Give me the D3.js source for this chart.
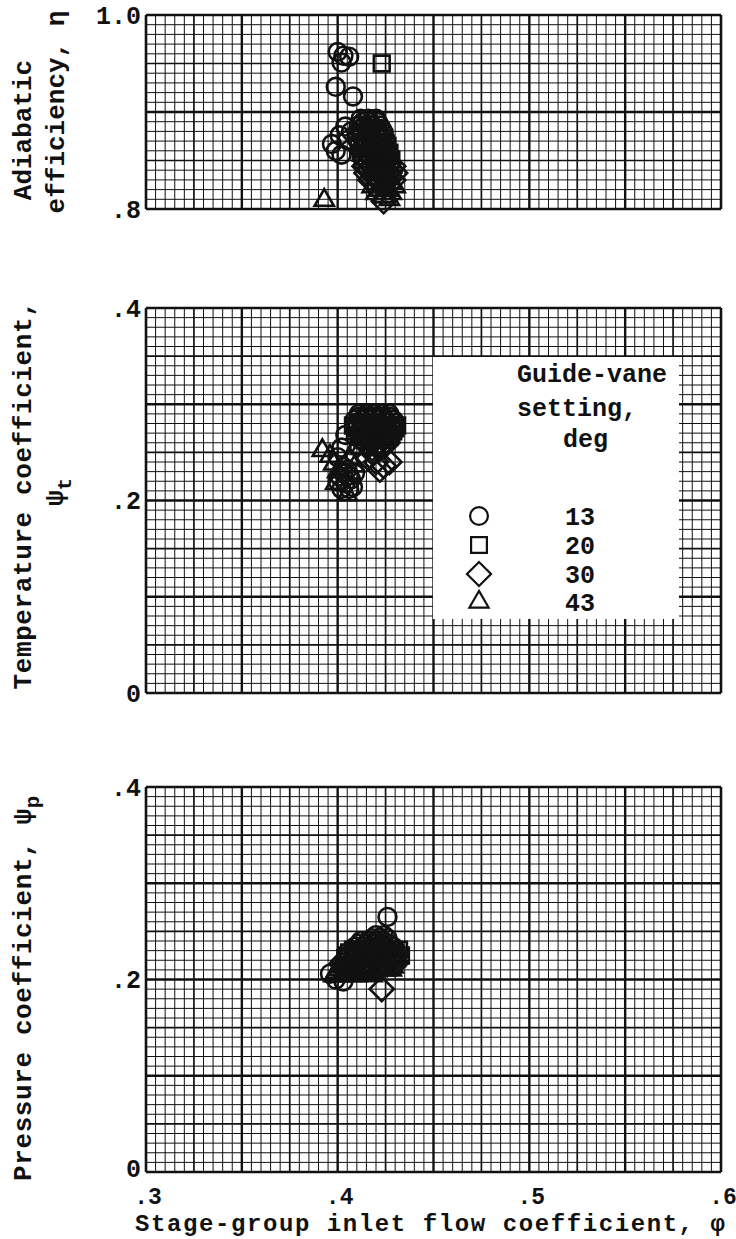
<!DOCTYPE html>
<html>
<head>
<meta charset="utf-8">
<script src="https://cdn.jsdelivr.net/npm/d3@7"></script>
<style>
  html, body { margin: 0; padding: 0; background: #fff; }
  svg text { font-family: "Liberation Mono", "DejaVu Sans Mono", monospace; fill: #111; font-weight: bold; }
</style>
</head>
<body>
<svg id="chart" width="736" height="1239"></svg>
<script>
// Stage-group inlet flow coefficient tick labels
const phiTickValues = [0.3, 0.4, 0.5, 0.6];
const phiTickLabels = [".3", ".4", ".5", ".6"];

// Guide-vane settings, deg
const settings = ["13", "20", "30", "43"];

// Adiabatic efficiency, eta, vs flow coefficient
const etaCircle = [[0.400,0.962],[0.403,0.958],[0.406,0.957],[0.402,0.951],[0.399,0.926],[0.408,0.916],
  [0.404,0.885],[0.401,0.876],[0.397,0.867],[0.399,0.860],[0.402,0.856],[0.405,0.871],[0.407,0.880],
  [0.412,0.893],[0.416,0.893],[0.420,0.893],
  [0.413,0.8895],[0.417,0.8895],[0.421,0.8895],
  [0.411,0.886],[0.414,0.886],[0.418,0.886],[0.422,0.886],
  [0.412,0.8825],[0.416,0.8825],[0.420,0.8825],[0.423,0.8825],
  [0.410,0.879],[0.413,0.879],[0.417,0.879],[0.421,0.879],[0.424,0.879],
  [0.412,0.8755],[0.416,0.8755],[0.420,0.8755],[0.423,0.8755],
  [0.410,0.872],[0.414,0.872],[0.418,0.872],[0.422,0.872],[0.425,0.872]];
const etaSquare = [[0.423,0.950],
  [0.413,0.8685],[0.417,0.8685],[0.421,0.8685],[0.424,0.8685],
  [0.411,0.865],[0.415,0.865],[0.419,0.865],[0.423,0.865],[0.426,0.865],
  [0.414,0.8615],[0.418,0.8615],[0.422,0.8615],[0.425,0.8615],
  [0.412,0.858],[0.416,0.858],[0.420,0.858],[0.424,0.858],[0.427,0.858],
  [0.415,0.8545],[0.419,0.8545],[0.423,0.8545],[0.426,0.8545],
  [0.413,0.851],[0.417,0.851],[0.421,0.851],[0.425,0.851],[0.428,0.851]];
const etaDiamond = [[0.416,0.8475],[0.420,0.8475],[0.424,0.8475],[0.427,0.8475],
  [0.414,0.844],[0.418,0.844],[0.422,0.844],[0.426,0.844],[0.429,0.844],
  [0.417,0.8405],[0.421,0.8405],[0.425,0.8405],[0.428,0.8405],
  [0.415,0.837],[0.419,0.837],[0.423,0.837],[0.427,0.837],[0.430,0.837],
  [0.419,0.8335],[0.423,0.8335],[0.427,0.8335],
  [0.417,0.830],[0.421,0.830],[0.425,0.830],[0.429,0.830],[0.424,0.808]];
const etaTriangle = [[0.393,0.809],
  [0.420,0.8265],[0.424,0.8265],[0.428,0.8265],
  [0.418,0.823],[0.422,0.823],[0.426,0.823],[0.430,0.823],
  [0.422,0.8195],[0.426,0.8195],
  [0.420,0.816],[0.424,0.816],[0.428,0.816],[0.424,0.8125],[0.427,0.810]];

// Temperature coefficient, psi_t
const psitCircle = [[0.404,0.268],[0.402,0.255],[0.400,0.245],[0.403,0.235],[0.401,0.225],[0.404,0.218],[0.402,0.212],
  [0.406,0.226],[0.408,0.214],[0.405,0.232],[0.407,0.222],[0.403,0.228],[0.409,0.228],[0.406,0.212],[0.400,0.220],
  [0.411,0.290],[0.415,0.290],[0.419,0.290],[0.423,0.290],[0.427,0.290],
  [0.411,0.287],[0.415,0.287],[0.419,0.287],[0.423,0.287],[0.427,0.287],
  [0.409,0.284],[0.413,0.284],[0.417,0.284],[0.421,0.284],[0.425,0.284],[0.429,0.284],
  [0.410,0.281],[0.414,0.281],[0.418,0.281],[0.422,0.281],[0.426,0.281],[0.430,0.281]];
const psitSquare = [[0.408,0.278],[0.412,0.278],[0.416,0.278],[0.420,0.278],[0.424,0.278],[0.428,0.278],[0.431,0.278],
  [0.410,0.275],[0.414,0.275],[0.418,0.275],[0.422,0.275],[0.426,0.275],[0.430,0.275],
  [0.409,0.272],[0.413,0.272],[0.417,0.272],[0.421,0.272],[0.425,0.272],[0.429,0.272],
  [0.412,0.269],[0.416,0.269],[0.420,0.269],[0.424,0.269],[0.428,0.269],
  [0.411,0.266],[0.415,0.266],[0.419,0.266],[0.423,0.266],[0.427,0.266],
  [0.413,0.263],[0.417,0.263],[0.421,0.263],[0.425,0.263]];
const psitDiamond = [[0.414,0.260],[0.418,0.260],[0.422,0.260],[0.426,0.260],
  [0.416,0.257],[0.420,0.257],[0.424,0.257],[0.418,0.254],[0.422,0.254],
  [0.416,0.244],[0.420,0.240],[0.424,0.236],[0.427,0.240],[0.418,0.250],[0.422,0.232]];
const psitTriangle = [[0.392,0.252],[0.396,0.246],[0.398,0.238],[0.400,0.230],[0.406,0.244],[0.409,0.236],
  [0.405,0.206],[0.399,0.218],[0.412,0.254]];

// Pressure coefficient, psi_p
const psipCircle = [[0.426,0.265],[0.396,0.206],[0.399,0.200],[0.403,0.198],
  [0.420,0.246],[0.424,0.246],[0.418,0.243],[0.422,0.243],[0.426,0.243],
  [0.412,0.240],[0.416,0.240],[0.420,0.240],[0.424,0.240],
  [0.411,0.237],[0.415,0.237],[0.419,0.237],[0.423,0.237],[0.427,0.237],
  [0.409,0.234],[0.413,0.234],[0.417,0.234],[0.421,0.234],[0.425,0.234],[0.429,0.234]];
const psipSquare = [[0.408,0.231],[0.412,0.231],[0.416,0.231],[0.420,0.231],[0.424,0.231],[0.428,0.231],[0.432,0.231],
  [0.406,0.228],[0.410,0.228],[0.414,0.228],[0.418,0.228],[0.422,0.228],[0.426,0.228],[0.430,0.228],
  [0.405,0.225],[0.409,0.225],[0.413,0.225],[0.417,0.225],[0.421,0.225],[0.425,0.225],[0.429,0.225],[0.433,0.225],
  [0.404,0.222],[0.408,0.222],[0.412,0.222],[0.416,0.222],[0.420,0.222],[0.424,0.222],[0.428,0.222],[0.431,0.222]];
const psipDiamond = [[0.423,0.190],
  [0.403,0.219],[0.407,0.219],[0.411,0.219],[0.415,0.219],[0.419,0.219],[0.423,0.219],[0.427,0.219],[0.430,0.219],
  [0.402,0.216],[0.406,0.216],[0.410,0.216],[0.414,0.216],[0.418,0.216],[0.422,0.216],[0.426,0.216],[0.430,0.216]];
const psipTriangle = [[0.401,0.213],[0.405,0.213],[0.409,0.213],[0.413,0.213],[0.417,0.213],[0.421,0.213],[0.425,0.213],[0.429,0.213],
  [0.400,0.210],[0.404,0.210],[0.408,0.210],[0.412,0.210],[0.416,0.210],[0.420,0.210],[0.424,0.210],[0.428,0.210],
  [0.399,0.207],[0.403,0.207],[0.407,0.207],[0.411,0.207],[0.415,0.207],[0.419,0.207],
  [0.398,0.204],[0.402,0.204],[0.406,0.204],[0.410,0.204],[0.418,0.204]];

const svg = d3.select("#chart");
const ink = "#111";

const x = d3.scaleLinear().domain([0.3, 0.6]).range([146, 721]);

const panels = [
  { domain: [0.8, 1.0], range: [209, 15], minorStep: 0.01,
    ticks: [[1.0, "1.0"], [0.8, ".8"]],
    series: [etaCircle, etaSquare, etaDiamond, etaTriangle] },
  { domain: [0, 0.4], range: [693, 308], minorStep: 0.01,
    ticks: [[0.4, ".4"], [0.2, ".2"], [0, "0"]],
    series: [psitCircle, psitSquare, psitDiamond, psitTriangle] },
  { domain: [0, 0.4], range: [1172, 787], minorStep: 0.01,
    ticks: [[0.4, ".4"], [0.2, ".2"], [0, "0"]],
    series: [psipCircle, psipSquare, psipDiamond, psipTriangle] }
];

// open marker shapes: circle, square, diamond (square turned 45 deg), triangle
const markerGen = [
  d3.symbol().type(d3.symbolCircle).size(250),
  d3.symbol().type(d3.symbolSquare).size(250),
  d3.symbol().type(d3.symbolSquare).size(290),
  d3.symbol().type(d3.symbolTriangle).size(160)
];
const markerRotate = [0, 0, 45, 0];

function gridWidth(i) {
  if (i % 10 === 0) return 2.4;
  if (i % 5 === 0) return 1.7;
  return 1;
}

panels.forEach((p, pi) => {
  p.y = d3.scaleLinear().domain(p.domain).range(p.range);
  const g = svg.append("g");
  const [x0, x1] = x.range();
  const [yb, yt] = p.range;

  // vertical grid lines every 0.005
  const nx = Math.round((0.6 - 0.3) / 0.005);
  g.selectAll("line.vx").data(d3.range(nx + 1)).join("line")
    .attr("x1", i => x(0.3 + i * 0.005)).attr("x2", i => x(0.3 + i * 0.005))
    .attr("y1", yt).attr("y2", yb)
    .attr("stroke", ink).attr("stroke-width", i => (i === 0 || i === nx) ? 2.6 : gridWidth(i));

  // horizontal grid lines every minorStep
  const ny = Math.round((p.domain[1] - p.domain[0]) / p.minorStep);
  g.selectAll("line.hy").data(d3.range(ny + 1)).join("line")
    .attr("y1", i => p.y(p.domain[0] + i * p.minorStep)).attr("y2", i => p.y(p.domain[0] + i * p.minorStep))
    .attr("x1", x0).attr("x2", x1)
    .attr("stroke", ink).attr("stroke-width", i => (i === 0 || i === ny) ? 2.6 : gridWidth(i));

  // y tick labels
  g.selectAll("text.yt").data(p.ticks).join("text")
    .attr("x", x0 - 5).attr("y", d => p.y(d[0]))
    .attr("dy", d => (pi === 2 && d[0] === 0) ? "0.2em" : "0.35em").attr("text-anchor", "end")
    .attr("font-size", 25).text(d => d[1]);
});

// legend box in the temperature-coefficient panel
const leg = svg.append("g");
leg.append("rect").attr("x", 433).attr("y", 357).attr("width", 246).attr("height", 262)
  .attr("fill", "#fff");
leg.append("text").attr("x", 517).attr("y", 382).attr("font-size", 25).text("Guide-vane");
leg.append("text").attr("x", 517).attr("y", 416).attr("font-size", 25).text("setting,");
leg.append("text").attr("x", 563).attr("y", 447).attr("font-size", 25).text("deg");
const legRows = [516, 545, 574, 602];
settings.forEach((s, i) => {
  leg.append("path").attr("d", markerGen[i]())
    .attr("transform", `translate(479,${legRows[i]}) rotate(${markerRotate[i]})`)
    .attr("fill", "none").attr("stroke", ink).attr("stroke-width", 2.2);
  leg.append("text").attr("x", 565).attr("y", legRows[i]).attr("dy", "0.35em")
    .attr("font-size", 25).text(s);
});

// data markers
panels.forEach(p => {
  const g = svg.append("g");
  p.series.forEach((pts, si) => {
    g.selectAll(null).data(pts).join("path")
      .attr("d", markerGen[si]())
      .attr("transform", d => `translate(${x(d[0])},${p.y(d[1])}) rotate(${markerRotate[si]})`)
      .attr("fill", "none").attr("stroke", ink).attr("stroke-width", 2.6);
  });
});

// bottom x tick labels
svg.append("g").selectAll("text").data(phiTickValues).join("text")
  .attr("x", d => x(d) + 2).attr("y", 1204).attr("text-anchor", "middle")
  .attr("font-size", 23).text((d, i) => phiTickLabels[i]);

// x axis title
svg.append("text").attr("x", 135).attr("y", 1231)
  .attr("textLength", 590).attr("lengthAdjust", "spacing")
  .attr("font-size", 24).text("Stage-group inlet flow coefficient,  φ");

// rotated y axis titles
function vlabel(cx, cy, text, spacing) {
  return svg.append("text").attr("transform", `translate(${cx},${cy}) rotate(-90)`)
    .attr("text-anchor", "middle").attr("font-size", 26)
    .attr("letter-spacing", spacing || 0).text(text);
}
vlabel(31, 130, "Adiabatic");
vlabel(64, 112, "efficiency, η");
vlabel(31, 495, "Temperature coefficient,", 0.6);
svg.append("text").attr("transform", "translate(63,492) rotate(-90)")
  .attr("text-anchor", "middle").attr("font-size", 26)
  .call(t => { t.append("tspan").text("ψ"); t.append("tspan").attr("dy", 8).attr("font-size", 21).text("t"); });
svg.append("text").attr("transform", "translate(31,988) rotate(-90)")
  .attr("text-anchor", "middle").attr("font-size", 26).attr("letter-spacing", 0.6)
  .call(t => { t.append("tspan").text("Pressure coefficient, ψ"); t.append("tspan").attr("dy", 8).attr("font-size", 21).text("p"); });
</script>
</body>
</html>
